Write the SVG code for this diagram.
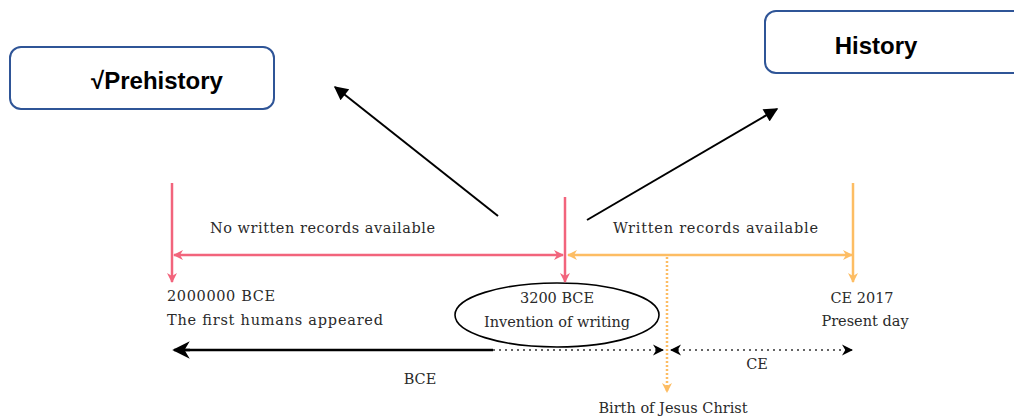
<svg xmlns="http://www.w3.org/2000/svg" width="1014" height="419" viewBox="0 0 1014 419">
<style>
.box{fill:#fff;stroke:#2F5597;stroke-width:2}
.head{font-family:"Liberation Sans",Arial,sans-serif;font-weight:bold;font-size:24px;fill:#000}
.tl{font-family:"DejaVu Serif","Liberation Serif",serif;font-size:14.5px;fill:#2a2a2a}
.pink{stroke:#F2647C;stroke-width:2.5;fill:none}
.orange{stroke:#FDBD63;stroke-width:2.5;fill:none}
.blk{stroke:#000;stroke-width:2;fill:none}
</style>
<defs>
<marker id="mPink" viewBox="0 0 10 10" refX="9" refY="5" markerWidth="4" markerHeight="4" orient="auto-start-reverse" markerUnits="strokeWidth">
<path d="M0,0 L10,5 L0,10 L3,5 Z" fill="#F2647C"/>
</marker>
<marker id="mOrange" viewBox="0 0 10 10" refX="9" refY="5" markerWidth="4" markerHeight="4" orient="auto-start-reverse" markerUnits="strokeWidth">
<path d="M0,0 L10,5 L0,10 L3,5 Z" fill="#FDBD63"/>
</marker>
<marker id="mBlack" viewBox="0 0 10 10" refX="9" refY="5" markerWidth="8" markerHeight="7" orient="auto" markerUnits="strokeWidth">
<path d="M0,0 L10,5 L0,10 Z" fill="#000"/>
</marker>
<marker id="mStealth" viewBox="0 0 10 10" refX="9" refY="5" markerWidth="7" markerHeight="7" orient="auto-start-reverse" markerUnits="strokeWidth">
<path d="M0,0 L10,5 L0,10 L3,5 Z" fill="#000"/>
</marker>
</defs>

<g id="node-prehistory">
<rect class="box" x="10" y="47" width="264" height="62" rx="11"/>
<text class="head" x="157" y="89" text-anchor="middle">√Prehistory</text>
</g>
<g id="node-history">
<rect class="box" x="765" y="11" width="270" height="62" rx="11"/>
<text class="head" x="876" y="54" text-anchor="middle">History</text>
</g>

<g id="node-labels">
<text class="tl" x="210" y="233" textLength="225">No written records available</text>
<text class="tl" x="613" y="233" textLength="205">Written records available</text>
<text class="tl" x="167" y="301" textLength="108">2000000 BCE</text>
<text class="tl" x="167" y="325" textLength="216">The first humans appeared</text>
<text class="tl" x="862" y="303" text-anchor="middle">CE 2017</text>
<text class="tl" x="865" y="326" text-anchor="middle">Present day</text>
<text class="tl" x="420" y="384" text-anchor="middle">BCE</text>
<text class="tl" x="757" y="369" text-anchor="middle">CE</text>
<text class="tl" x="673" y="413" text-anchor="middle">Birth of Jesus Christ</text>
</g>

<g id="node-writing">
<ellipse cx="557" cy="315" rx="102" ry="32" fill="none" stroke="#000" stroke-width="1.6"/>
<text class="tl" x="557" y="303" text-anchor="middle">3200 BCE</text>
<text class="tl" x="557" y="327" text-anchor="middle">Invention of writing</text>
</g>

<g id="connectors">
<line class="pink" x1="172" y1="183" x2="172" y2="282" marker-end="url(#mPink)"/>
<line class="pink" x1="565" y1="197" x2="565" y2="282" marker-end="url(#mPink)"/>
<line class="pink" x1="174" y1="255" x2="563" y2="255" marker-start="url(#mPink)" marker-end="url(#mPink)"/>
<line class="orange" x1="568" y1="255" x2="852" y2="255" marker-start="url(#mOrange)" marker-end="url(#mOrange)"/>
<line class="orange" x1="853" y1="183" x2="853" y2="282" marker-end="url(#mOrange)"/>
<line class="orange" x1="667" y1="257" x2="667" y2="392" stroke-dasharray="2 2" marker-end="url(#mOrange)"/>
<line class="blk" x1="498" y1="216" x2="335" y2="87" marker-end="url(#mBlack)"/>
<line class="blk" x1="587" y1="220" x2="777" y2="109" marker-end="url(#mBlack)"/>
<line x1="178" y1="350" x2="493" y2="350" stroke="#000" stroke-width="2.5"/>
<line x1="174" y1="350" x2="190" y2="350" stroke="#000" stroke-width="2.5" marker-start="url(#mStealth)"/>
<line x1="493" y1="350" x2="663" y2="350" stroke="#333" stroke-width="1.6" stroke-dasharray="2 4" marker-end="url(#mStealth)"/>
<line x1="671" y1="350" x2="852" y2="350" stroke="#333" stroke-width="1.6" stroke-dasharray="2 4" marker-start="url(#mStealth)" marker-end="url(#mStealth)"/>
</g>
</svg>
